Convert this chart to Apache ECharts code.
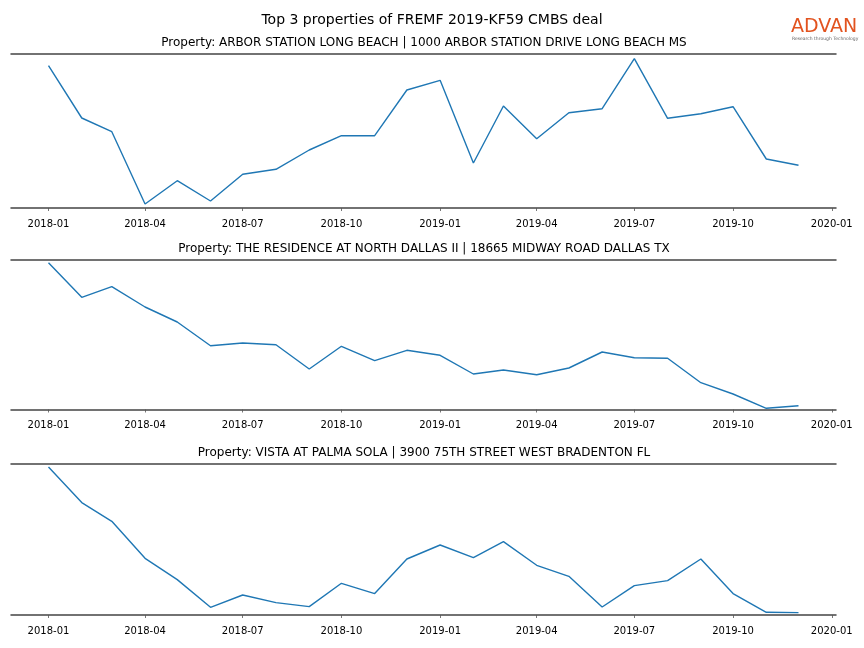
<!DOCTYPE html>
<html>
<head>
<meta charset="utf-8">
<script src="https://cdn.jsdelivr.net/npm/echarts@6/dist/echarts.min.js"></script>
<style>html,body{margin:0;padding:0;background:#fff;}#c{width:864px;height:648px;}</style>
</head>
<body>
<div id="c"></div>
<script>
var months = ['2018-01','2018-02','2018-03','2018-04','2018-05','2018-06','2018-07','2018-08','2018-09','2018-10','2018-11','2018-12',
              '2019-01','2019-02','2019-03','2019-04','2019-05','2019-06','2019-07','2019-08','2019-09','2019-10','2019-11','2019-12'];
var tickLabels = ['2018-01','2018-04','2018-07','2018-10','2019-01','2019-04','2019-07','2019-10','2020-01'];
var mainTitle = 'Top 3 properties of FREMF 2019-KF59 CMBS deal';
var titles = [
  'Property: ARBOR STATION LONG BEACH | 1000 ARBOR STATION DRIVE LONG BEACH MS',
  'Property: THE RESIDENCE AT NORTH DALLAS II | 18665 MIDWAY ROAD DALLAS TX',
  'Property: VISTA AT PALMA SOLA | 3900 75TH STREET WEST BRADENTON FL'
];
var arbor = [142.3, 90, 76.3, 4, 27.3, 7, 33.7, 38.7, 58, 72.3, 72.3, 118,
             127.7, 45, 102, 69.3, 95.3, 99.3, 149.3, 89.7, 94.3, 101.3, 49, 42.7];
var residence = [146.8, 112.2, 122.8, 102.5, 87.5, 63.8, 66.5, 64.8, 40.5, 63.2, 48.8, 59.2,
                 54.2, 35.5, 39.5, 34.8, 41.5, 57.5, 51.8, 51.2, 26.8, 15.5, 1.2, 3.8];
var vista = [148, 112.4, 93.7, 56.7, 35.4, 7.7, 20, 12.4, 8.4, 31.7, 21.4, 56,
             70, 57.4, 73.4, 49.7, 38.7, 8, 29.4, 34.4, 56, 21.4, 2.7, 2.4];
var yMax = [154, 149.5, 151];

function ts(s) { var p = s.split('-'); return Date.UTC(+p[0], +p[1] - 1, 1); }
var xs = months.map(ts);
var span = xs[xs.length - 1] - xs[0];
var xMin = xs[0] - 0.05 * span;
var xMax = xs[xs.length - 1] + 0.05 * span;
var tickVals = tickLabels.map(ts);

var seriesData = [arbor, residence, vista];
var grids = [
  {left: 11, right: 28, top: 54, height: 154},
  {left: 11, right: 28, top: 260, height: 149.5},
  {left: 11, right: 28, top: 464, height: 151}
];
var spineStyle = {color: '#444', width: 1.5};
var xAxes = [], yAxes = [], series = [], gtitles = [];
for (var i = 0; i < 3; i++) {
  xAxes.push({type: 'value', gridIndex: i, position: 'top', min: xMin, max: xMax,
    axisLine: {show: true, onZero: false, lineStyle: spineStyle}, axisTick: {show: false},
    axisLabel: {show: false}, splitLine: {show: false}});
  xAxes.push({type: 'value', gridIndex: i, position: 'bottom', min: xMin, max: xMax,
    axisLine: {show: true, onZero: false, lineStyle: spineStyle}, axisTick: {show: false},
    axisLabel: {show: false}, splitLine: {show: false}});
  xAxes.push({type: 'value', gridIndex: i, position: 'bottom', offset: 5, min: xMin, max: xMax,
    axisLine: {show: false},
    axisTick: {show: true, length: 3, customValues: tickVals, lineStyle: {color: '#555', width: 0.8}},
    axisLabel: {show: true, customValues: tickVals, margin: 6, fontSize: 10, color: '#000',
      fontFamily: 'DejaVu Sans',
      formatter: function (v) {
        var idx = tickVals.indexOf(v);
        if (idx >= 0) return tickLabels[idx];
        var d = new Date(v); var m = d.getUTCMonth() + 1;
        return d.getUTCFullYear() + '-' + (m < 10 ? '0' + m : m);
      }},
    splitLine: {show: false}});
  yAxes.push({type: 'value', gridIndex: i, min: 0, max: yMax[i], show: false, splitLine: {show: false}});
  series.push({type: 'line', xAxisIndex: i * 3 + 2, yAxisIndex: i, symbol: 'none',
    lineStyle: {color: '#1f77b4', width: 1.4}, itemStyle: {color: '#1f77b4'},
    data: xs.map(function (x, k) { return [x, seriesData[i][k]]; }), animation: false});
  gtitles.push({text: titles[i], left: 419, top: grids[i].top - 22, textAlign: 'center',
    textStyle: {fontSize: 12, fontWeight: 'normal', color: '#000', fontFamily: 'DejaVu Sans'}});
}
gtitles.unshift({text: mainTitle, left: 427, top: 8, textAlign: 'center',
  textStyle: {fontSize: 14, fontWeight: 'normal', color: '#000', fontFamily: 'DejaVu Sans'}});

var chart = echarts.init(document.getElementById('c'), null, {renderer: 'canvas'});
chart.setOption({
  backgroundColor: '#fff',
  animation: false,
  title: gtitles,
  grid: grids,
  xAxis: xAxes,
  yAxis: yAxes,
  series: series,
  graphic: [
    {type: 'text', left: 791, top: 18, style: {text: 'ADVAN', fontSize: 19, fontWeight: 'normal',
      fill: '#e2531f', fontFamily: 'DejaVu Sans'}},
    {type: 'text', left: 792, top: 36, style: {text: 'Research through Technology', fontSize: 4.5,
      fill: '#666', fontFamily: 'DejaVu Sans'}}
  ]
});
</script>
</body>
</html>
